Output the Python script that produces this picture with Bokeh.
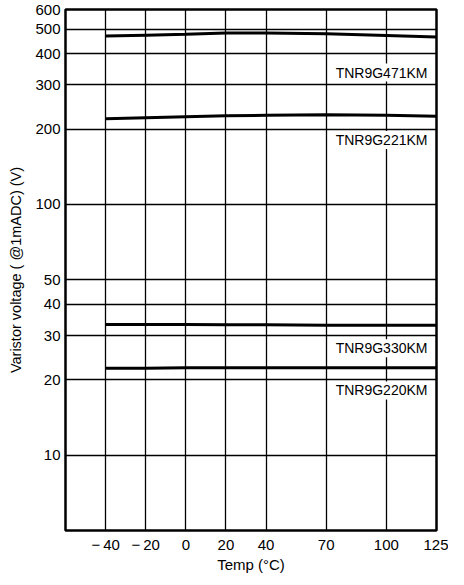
from bokeh.plotting import figure
from bokeh.models import Range1d, FixedTicker, Label, NumeralTickFormatter
from bokeh.embed import file_html
from bokeh.resources import INLINE

# ---- data ----
temps = [-40, -20, 0, 20, 40, 70, 100, 125]
v_471 = [470, 474, 478, 483, 483, 480, 473, 466]
v_221 = [220, 222, 224, 226, 227, 228, 227, 225]
v_330 = [33.2, 33.2, 33.2, 33.1, 33.1, 33.0, 33.0, 33.0]
v_220 = [22.2, 22.2, 22.3, 22.3, 22.3, 22.3, 22.3, 22.3]

series_names = ["TNR9G471KM", "TNR9G221KM", "TNR9G330KM", "TNR9G220KM"]
label_y = [336, 181, 26.7, 18.1]
label_x = 121

x_ticks = [-40, -20, 0, 20, 40, 70, 100, 125]
x_tick_labels = ["\u2212\u200940", "\u2212\u200920", "0", "20", "40", "70", "100", "125"]
y_ticks = [10, 20, 30, 40, 50, 100, 200, 300, 400, 500, 600]

FONT = "Liberation Sans"

p = figure(frame_width=371, frame_height=521, output_backend="svg", toolbar_location=None,
           y_axis_type="log", x_range=Range1d(-60, 125), y_range=Range1d(5, 600),
           min_border_left=65, min_border_right=12, min_border_top=9, min_border_bottom=39)

p.outline_line_color = "black"
p.outline_line_width = 2.5
p.background_fill_color = "white"
p.border_fill_color = "white"

# axes
p.xaxis.ticker = FixedTicker(ticks=x_ticks)
p.xaxis.major_label_overrides = {t: s for t, s in zip(x_ticks, x_tick_labels)}
p.yaxis.ticker = FixedTicker(ticks=y_ticks)
p.yaxis.formatter = NumeralTickFormatter(format="0")

for ax in (p.xaxis[0], p.yaxis[0]):
    ax.axis_line_color = None
    ax.major_tick_line_color = None
    ax.minor_tick_line_color = None
    ax.major_tick_out = 0
    ax.major_tick_in = 0
    ax.minor_tick_out = 0
    ax.minor_tick_in = 0
    ax.major_label_text_font = FONT
    ax.major_label_text_font_size = "15px"
    ax.major_label_text_color = "black"
    ax.axis_label_text_font = FONT
    ax.axis_label_text_font_style = "normal"
    ax.axis_label_text_color = "black"

p.xaxis.axis_label = "Temp (\u00b0C)"
p.xaxis.axis_label_text_font_size = "15px"
p.xaxis.major_label_standoff = 5
p.xaxis.axis_label_standoff = 0

p.yaxis.axis_label = "Varistor voltage ( @1mADC) (V)"
p.yaxis.axis_label_text_font_size = "14.5px"
p.yaxis.major_label_standoff = 5
p.yaxis.axis_label_standoff = 8

# grid
p.xgrid.ticker = FixedTicker(ticks=x_ticks)
p.ygrid.ticker = FixedTicker(ticks=y_ticks)
for g in (p.xgrid[0], p.ygrid[0]):
    g.grid_line_color = "black"
    g.grid_line_width = 1.3
    g.grid_line_alpha = 1.0
p.ygrid.minor_grid_line_color = None

# curves
for vals in (v_471, v_221, v_330, v_220):
    p.line(temps, vals, line_color="black", line_width=3)

# series labels
for name, ly in zip(series_names, label_y):
    p.add_layout(Label(x=label_x, y=ly, text=name, text_align="right",
                       text_baseline="middle", text_font=FONT,
                       text_font_size="14px", text_color="black",
                       background_fill_color="white", background_fill_alpha=1.0,
                       padding=1))

open("out.html", "w").write(file_html(p, INLINE))
